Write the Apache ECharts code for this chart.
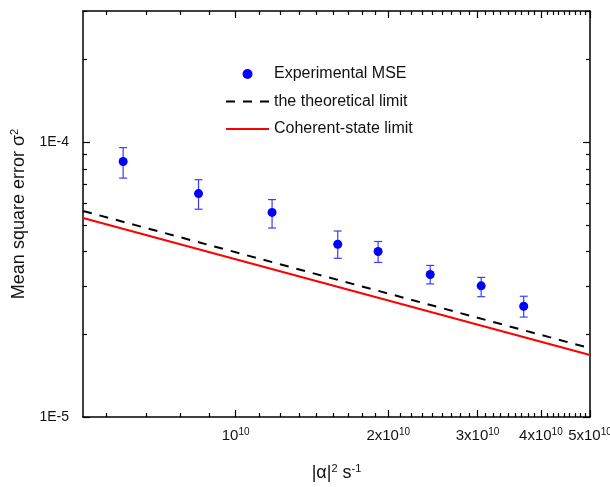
<!DOCTYPE html>
<html>
<head>
<meta charset="utf-8">
<script src="https://cdn.jsdelivr.net/npm/echarts@6/dist/echarts.min.js"></script>
<style>
  html, body { margin: 0; padding: 0; background: #fff; }
  #chart { width: 610px; height: 487px; }
</style>
</head>
<body>
<div id="chart"></div>
<script>
// 实验数据 (|α|^2 s^-1, 均方误差)
const expX = [6.0e9, 8.45e9, 1.18e10, 1.59e10, 1.91e10, 2.42e10, 3.05e10, 3.70e10];
const expY = [8.5e-5, 6.5e-5, 5.55e-5, 4.25e-5, 4.0e-5, 3.3e-5, 3.0e-5, 2.53e-5];
const errLow = [7.4e-5, 5.7e-5, 4.87e-5, 3.78e-5, 3.65e-5, 3.05e-5, 2.74e-5, 2.31e-5];
const errHigh = [9.55e-5, 7.3e-5, 6.18e-5, 4.75e-5, 4.35e-5, 3.56e-5, 3.22e-5, 2.75e-5];

// 理论极限线 (两端点)
const theoryX = [5e9, 5e10];
const theoryY = [5.62e-5, 1.78e-5];
const coherentX = [5e9, 5e10];
const coherentY = [5.3e-5, 1.68e-5];

// 坐标轴刻度
const xMajor = [1e10, 2e10, 3e10, 4e10, 5e10];
const xLabelBase = ['10', '2x10', '3x10', '4x10', '5x10'];
const xLabelExp = ['10', '10', '10', '10', '10'];
const xMinor = [];
// 次刻度：每个主刻度区间分成 9 份
[0, 1e10, 2e10, 3e10, 4e10].forEach((start) => {
  for (let k = 1; k <= 8; k++) {
    const v = start + 1e10 * k / 9;
    if (v > 5e9 && v < 5e10) xMinor.push(v);
  }
});
const yMajor = [1e-5, 1e-4];
const yLabels = ['1E-5', '1E-4'];
const yMinor = [2e-5, 3e-5, 4e-5, 5e-5, 6e-5, 7e-5, 8e-5, 9e-5, 2e-4, 3e-4];

const toRaw = (v, isY) => {
  if (isY) return v < 0 ? Math.pow(10, v) : v;
  return v < 100 ? Math.pow(10, v) : v;
};
const findIdx = (arr, v) => arr.findIndex(a => Math.abs(a - v) / a < 1e-6);

const myChart = echarts.init(document.getElementById('chart'));

const FONT = 'Liberation Sans, Arial';
const axisLine = { show: true, lineStyle: { color: '#000', width: 1.5 } };
const majorTick = (vals) => ({ show: true, inside: true, length: 7, customValues: vals, lineStyle: { color: '#000', width: 1.2 } });
const minorTick = (vals) => ({ show: true, inside: true, length: 4, customValues: vals, lineStyle: { color: '#000', width: 1.2 } });

const baseX = { type: 'log', logBase: 10, min: 5e9, max: 5e10, splitLine: { show: false } };
const baseY = { type: 'log', logBase: 10, min: 1e-5, max: 3e-4, splitLine: { show: false } };

const option = {
  backgroundColor: '#fff',
  animation: false,
  grid: { left: 83, right: 20, top: 11, bottom: 70, containLabel: false, outerBoundsMode: 'none' },
  legend: {
    orient: 'vertical',
    left: 220,
    top: 61,
    itemWidth: 43,
    itemHeight: 10,
    itemGap: 11.5,
    textStyle: { fontFamily: FONT, fontSize: 16, color: '#111' },
    data: [
      { name: 'Experimental MSE' },
      { name: 'the theoretical limit', itemStyle: { opacity: 0 } },
      { name: 'Coherent-state limit', itemStyle: { opacity: 0 } }
    ]
  },
  xAxis: [
    Object.assign({}, baseX, {
      position: 'bottom',
      axisLine: axisLine,
      axisTick: majorTick(xMajor),
      axisLabel: {
        show: true,
        customValues: xMajor,
        margin: 10,
        formatter: function (v) {
          const i = findIdx(xMajor, toRaw(v, false));
          if (i < 0) return '';
          return '{b|' + xLabelBase[i] + '}{s|' + xLabelExp[i] + '}';
        },
        rich: {
          b: { fontFamily: FONT, fontSize: 15, color: '#111', lineHeight: 18 },
          s: { fontFamily: FONT, fontSize: 10, color: '#111', verticalAlign: 'top', lineHeight: 10 }
        }
      },
      name: '{b|\u007C\u03B1\u007C}{s|2}{b| s}{s|-1}',
      nameLocation: 'middle',
      nameGap: 46,
      nameTextStyle: {
        rich: {
          b: { fontFamily: FONT, fontSize: 18, color: '#111', lineHeight: 20 },
          s: { fontFamily: FONT, fontSize: 11, color: '#111', verticalAlign: 'top', lineHeight: 11 }
        }
      }
    }),
    Object.assign({}, baseX, {
      position: 'bottom',
      axisLine: { show: false },
      axisTick: minorTick(xMinor),
      axisLabel: { show: false }
    }),
    Object.assign({}, baseX, {
      position: 'top',
      axisLine: axisLine,
      axisTick: majorTick(xMajor),
      axisLabel: { show: false }
    }),
    Object.assign({}, baseX, {
      position: 'top',
      axisLine: { show: false },
      axisTick: minorTick(xMinor),
      axisLabel: { show: false }
    })
  ],
  yAxis: [
    Object.assign({}, baseY, {
      position: 'left',
      axisLine: axisLine,
      axisTick: majorTick(yMajor),
      axisLabel: {
        show: true,
        customValues: yMajor,
        margin: 14,
        fontFamily: FONT,
        fontSize: 14,
        color: '#111',
        formatter: function (v) {
          const i = findIdx(yMajor, toRaw(v, true));
          return i < 0 ? '' : yLabels[i];
        }
      },
      name: '{b|Mean square error \u03C3}{s|2}',
      nameLocation: 'middle',
      nameGap: 54,
      nameTextStyle: {
        rich: {
          b: { fontFamily: FONT, fontSize: 18, color: '#111', lineHeight: 20 },
          s: { fontFamily: FONT, fontSize: 11, color: '#111', verticalAlign: 'top', lineHeight: 11 }
        }
      }
    }),
    Object.assign({}, baseY, {
      position: 'left',
      axisLine: { show: false },
      axisTick: minorTick(yMinor),
      axisLabel: { show: false }
    }),
    Object.assign({}, baseY, {
      position: 'right',
      axisLine: axisLine,
      axisTick: majorTick(yMajor),
      axisLabel: { show: false }
    }),
    Object.assign({}, baseY, {
      position: 'right',
      axisLine: { show: false },
      axisTick: minorTick(yMinor),
      axisLabel: { show: false }
    })
  ],
  series: [
    {
      name: 'Experimental MSE',
      type: 'scatter',
      xAxisIndex: 0,
      yAxisIndex: 0,
      symbol: 'circle',
      symbolSize: 9,
      itemStyle: { color: '#0000ff', opacity: 1 },
      data: expX.map((x, i) => [x, expY[i]]),
      z: 5
    },
    {
      name: 'err',
      type: 'custom',
      xAxisIndex: 0,
      yAxisIndex: 0,
      data: expX.map((x, i) => [x, errLow[i], errHigh[i]]),
      renderItem: function (params, api) {
        const lo = api.coord([api.value(0), api.value(1)]);
        const hi = api.coord([api.value(0), api.value(2)]);
        const w = 4;
        const style = { stroke: '#3b3bff', lineWidth: 1.2 };
        return {
          type: 'group',
          children: [
            { type: 'line', shape: { x1: hi[0], y1: hi[1], x2: lo[0], y2: lo[1] }, style: style },
            { type: 'line', shape: { x1: hi[0] - w, y1: hi[1], x2: hi[0] + w, y2: hi[1] }, style: style },
            { type: 'line', shape: { x1: lo[0] - w, y1: lo[1], x2: lo[0] + w, y2: lo[1] }, style: style }
          ]
        };
      },
      z: 4
    },
    {
      name: 'the theoretical limit',
      type: 'line',
      xAxisIndex: 0,
      yAxisIndex: 0,
      symbol: 'none',
      lineStyle: { color: '#000', width: 2, type: [9, 8] },
      itemStyle: { color: '#000' },
      data: theoryX.map((x, i) => [x, theoryY[i]])
    },
    {
      name: 'Coherent-state limit',
      type: 'line',
      xAxisIndex: 0,
      yAxisIndex: 0,
      symbol: 'none',
      lineStyle: { color: '#ff0000', width: 2 },
      itemStyle: { color: '#ff0000' },
      data: coherentX.map((x, i) => [x, coherentY[i]])
    }
  ]
};

myChart.setOption(option);
window.addEventListener('resize', () => myChart.resize());
</script>
</body>
</html>
